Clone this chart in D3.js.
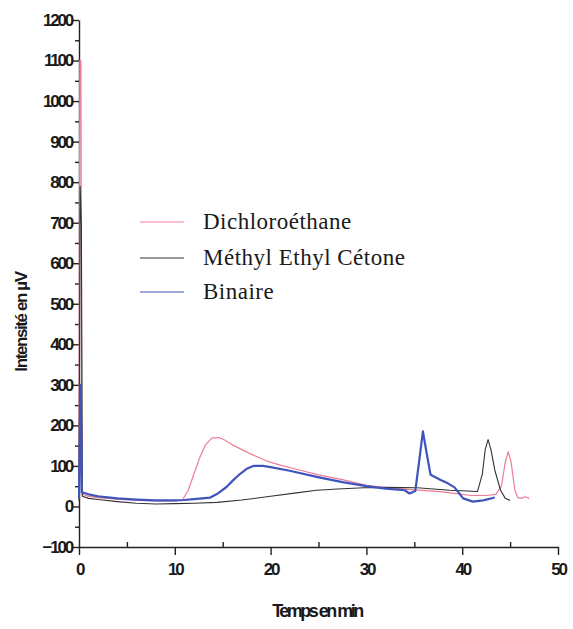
<!DOCTYPE html>
<html>
<head>
<meta charset="utf-8">
<script src="https://cdn.jsdelivr.net/npm/d3@7"></script>
<style>
  body { margin: 0; background: #fff; }
  svg { display: block; }
  .tick text { font-family: "Liberation Sans", Arial, sans-serif; font-size: 17px; font-weight: bold; letter-spacing: -2.2px; fill: #1a1a1a; }
</style>
</head>
<body>
<div id="chart"></div>
<script>
// time (min), intensity (µV)
const dichloro = [
  [0, 18], [0.08, 1100], [0.2, 1100], [0.3, 30], [1, 25], [2, 22], [4, 18], [6, 15], [8, 14],
  [10, 14], [10.8, 16], [11.4, 40], [12, 80], [12.6, 120], [13.2, 152], [13.9, 169], [14.6, 170],
  [15.2, 164], [16, 152], [17.8, 131], [19.6, 112], [21, 102], [23, 90], [25, 78], [27.5, 66],
  [30, 52], [32.5, 45], [35, 41], [37.4, 37], [39, 33], [41, 27], [42.5, 27], [43.5, 30],
  [44.1, 50], [44.5, 110], [44.8, 135], [45.1, 110], [45.5, 40], [45.8, 22], [46.2, 20], [46.6, 24], [47, 20]
];
const mek = [
  [0, 15], [0.12, 790], [0.25, 690], [0.35, 25], [1, 20], [2, 17], [4, 12], [6, 8], [8, 6],
  [10, 7], [12, 8], [14.4, 10], [17, 16], [20, 25], [22.5, 33], [24.8, 40], [27, 43],
  [29.7, 46], [32, 47], [35.3, 46], [37, 43], [38.7, 40], [40.5, 38], [41.6, 37],
  [42.1, 80], [42.4, 140], [42.7, 165], [43, 140], [43.4, 90], [44, 40], [44.5, 20], [45, 15]
];
const binaire = [
  [0, 20], [0.15, 300], [0.3, 35], [1, 30], [2, 25], [4, 20], [6, 17], [8, 15],
  [10, 15], [11, 16], [12, 18], [13.7, 22], [14.5, 32], [15.4, 48], [16.1, 65], [16.8, 80],
  [17.5, 93], [18.2, 100], [19.2, 100], [20, 97], [22, 88], [24.8, 73], [27.5, 60],
  [30, 50], [32, 44], [34, 40], [34.5, 32], [35.1, 38], [35.5, 110], [35.9, 185],
  [36.3, 130], [36.7, 78], [37.7, 66], [38.5, 57], [39.2, 47], [39.7, 32], [40.1, 20],
  [41.1, 12], [42.2, 15], [43.4, 22]
];

const series = [
  { name: "Dichloroéthane", data: dichloro, color: "#f07c95", width: 1.2 },
  { name: "Méthyl Ethyl Cétone", data: mek, color: "#333", width: 1.1 },
  { name: "Binaire", data: binaire, color: "#4055bb", width: 2.2 }
];

const xTicks = [0, 10, 20, 30, 40, 50];
const yTicks = [-100, 0, 100, 200, 300, 400, 500, 600, 700, 800, 900, 1000, 1100, 1200];

const width = 573, height = 629;
const x = d3.scaleLinear().domain([0, 50]).range([79, 558]);
const y = d3.scaleLinear().domain([-100, 1200]).range([547, 20]);

const svg = d3.select("#chart").append("svg")
  .attr("width", width).attr("height", height);

// minor ticks
svg.append("g").attr("transform", `translate(0,${y(-100)})`)
  .call(d3.axisBottom(x).tickValues(d3.range(5, 50, 10)).tickSize(-5).tickFormat(""))
  .call(g => g.select(".domain").remove());
svg.append("g").attr("transform", `translate(${x(0)},0)`)
  .call(d3.axisLeft(y).tickValues(d3.range(-50, 1200, 100)).tickSize(4).tickFormat(""))
  .call(g => g.select(".domain").remove());

const xAxis = svg.append("g").attr("transform", `translate(0,${y(-100)})`)
  .call(d3.axisBottom(x).tickValues(xTicks).tickSize(8).tickSizeOuter(0).tickPadding(8).tickFormat(d3.format("d")));
const yAxis = svg.append("g").attr("transform", `translate(${x(0)},0)`)
  .call(d3.axisLeft(y).tickValues(yTicks).tickSize(7).tickSizeOuter(0).tickPadding(0).tickFormat(d3.format("d")));

svg.selectAll(".domain, .tick line").attr("stroke", "#222").attr("stroke-width", 1.4);
xAxis.selectAll(".tick text").attr("font-size", 18);

const line = d3.line().x(d => x(d[0])).y(d => y(d[1]));
svg.selectAll("path.serie").data(series).join("path")
  .attr("class", "serie")
  .attr("fill", "none")
  .attr("stroke", d => d.color)
  .attr("stroke-width", d => d.width)
  .attr("stroke-linejoin", "round")
  .attr("d", d => line(d.data));

// legend
const legendY = [222, 258, 292];
const legend = svg.append("g");
series.forEach((s, i) => {
  const ly = legendY[i];
  legend.append("line").attr("x1", 140).attr("x2", 184).attr("y1", ly).attr("y2", ly)
    .attr("stroke", s.color).attr("stroke-width", 1);
  legend.append("text").attr("x", 203).attr("y", ly + 7)
    .attr("font-family", "'Liberation Serif', 'Times New Roman', serif")
    .attr("font-size", 23).attr("letter-spacing", 0.5).attr("fill", "#1a1a1a").text(s.name);
});

// axis titles
svg.append("text").attr("x", 317).attr("y", 617).attr("text-anchor", "middle")
  .attr("font-family", "'Liberation Sans', Arial, sans-serif").attr("font-size", 18)
  .attr("font-weight", "bold").attr("letter-spacing", -2.5).attr("fill", "#1a1a1a")
  .text("Temps en min");
svg.append("text").attr("transform", "translate(27,322) rotate(-90)").attr("text-anchor", "middle")
  .attr("font-family", "'Liberation Sans', Arial, sans-serif").attr("font-size", 17)
  .attr("font-weight", "bold").attr("letter-spacing", -1.4).attr("fill", "#1a1a1a")
  .text("Intensité en µV");
</script>
</body>
</html>
